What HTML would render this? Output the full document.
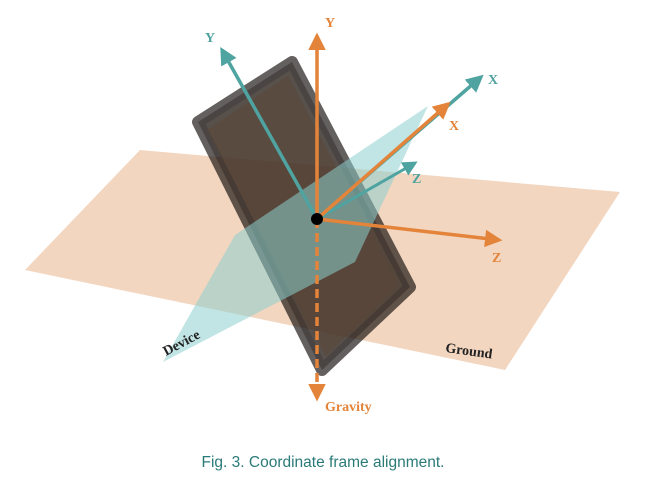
<!DOCTYPE html>
<html><head><meta charset="utf-8">
<style>
html,body{margin:0;padding:0;background:#fff;}
svg{display:block;}
.lbl{font-family:"Liberation Serif",serif;font-weight:bold;font-size:14px;}
</style></head>
<body>
<svg width="646" height="480" viewBox="0 0 646 480">
<defs>
<marker id="ao" viewBox="0 0 10 10" refX="8" refY="5" markerWidth="5" markerHeight="5" orient="auto"><path d="M0,0L10,5L0,10z" fill="#e3843a"/></marker>
<marker id="at" viewBox="0 0 10 10" refX="8" refY="5" markerWidth="5" markerHeight="5" orient="auto"><path d="M0,0L10,5L0,10z" fill="#4fa3a0"/></marker>
</defs>
<polygon points="140,150 620,192 505,370 25,270" fill="#f3d6c0"/>
<polygon points="198,122 292,62 410,287 322,370" fill="#2a1f18" opacity="0.78" stroke="#15110e" stroke-opacity="0.85" stroke-width="12" stroke-linejoin="round"/>
<polygon points="207,130 288,76 398,284 326,356" fill="#5a4436" opacity="0.45"/>
<polygon points="163,362 235,235 428,106 355,262" fill="#8ccfcd" opacity="0.55"/>
<line x1="317" y1="219" x2="222" y2="50" stroke="#4fa3a0" stroke-width="3.5" marker-end="url(#at)"/>
<line x1="317" y1="219" x2="481" y2="77" stroke="#4fa3a0" stroke-width="3.5" marker-end="url(#at)"/>
<line x1="317" y1="219" x2="415" y2="163" stroke="#4fa3a0" stroke-width="3" marker-end="url(#at)"/>
<line x1="317" y1="219" x2="317" y2="36" stroke="#e3843a" stroke-width="3.5" marker-end="url(#ao)"/>
<line x1="317" y1="219" x2="448" y2="104" stroke="#e3843a" stroke-width="3.5" marker-end="url(#ao)"/>
<line x1="317" y1="219" x2="499" y2="240" stroke="#e3843a" stroke-width="3.5" marker-end="url(#ao)"/>
<line x1="317" y1="219" x2="317" y2="398" stroke="#e3843a" stroke-width="3.5" stroke-dasharray="9,5" marker-end="url(#ao)"/>
<circle cx="317" cy="219" r="6" fill="#000"/>
<text class="lbl" x="205" y="42" fill="#4fa3a0">Y</text>
<text class="lbl" x="488" y="84" fill="#4fa3a0">X</text>
<text class="lbl" x="412" y="183" fill="#4fa3a0">Z</text>
<text class="lbl" x="325" y="27" fill="#e3843a">Y</text>
<text class="lbl" x="449" y="130" fill="#e3843a">X</text>
<text class="lbl" x="492" y="262" fill="#e3843a">Z</text>
<text class="lbl" x="325" y="411" fill="#e3843a">Gravity</text>
<text class="lbl" x="0" y="0" fill="#222" transform="translate(166,356) rotate(-28)">Device</text>
<text class="lbl" x="0" y="0" fill="#222" transform="translate(445,352) rotate(8)">Ground</text>
<text x="323" y="467" text-anchor="middle" font-family="Liberation Sans, sans-serif" font-size="15.5" fill="#2a7a78">Fig. 3.  Coordinate frame alignment.</text>
</svg>
</body></html>
